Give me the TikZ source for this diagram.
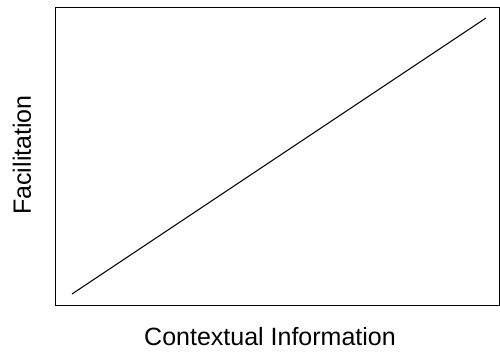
\documentclass[tikz,border=0pt]{standalone}
\usepackage{fontspec}
\setmainfont{Liberation Sans}
\begin{document}
\begin{tikzpicture}[x=1pt,y=1pt,
  frame/.style={draw=black,line width=0.9pt},
  curve/.style={draw=black,line width=1pt},
  axlabel/.style={font=\fontsize{25}{29}\selectfont,inner sep=0pt}]
\useasboundingbox (0,0) rectangle (500,354);
\coordinate (bl) at (55,49);
\coordinate (tr) at (499.5,347);
\draw[frame] (bl) rectangle (tr);
\coordinate (s) at (72,60);
\coordinate (e) at (486,336);
\draw[curve] (s) -- (e);
\node[axlabel] (xl) at (270,17) {Contextual Information};
\node[axlabel,rotate=90] (yl) at (22,199) {Facilitation};
\end{tikzpicture}
\end{document}
